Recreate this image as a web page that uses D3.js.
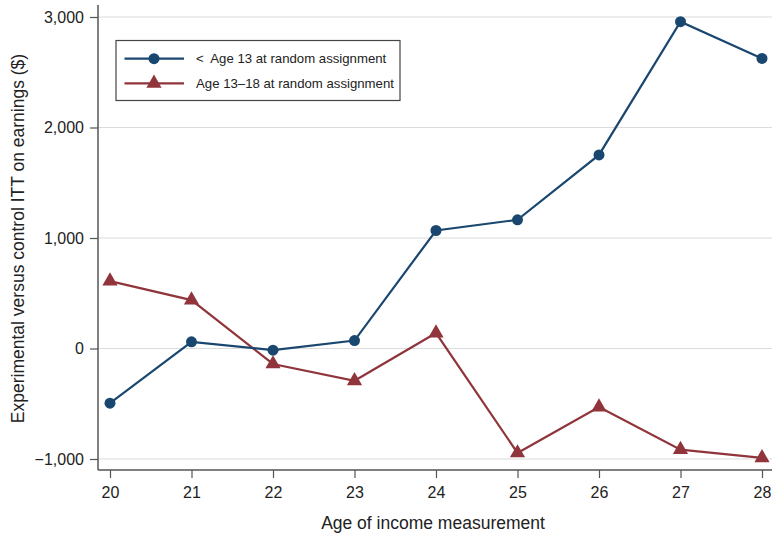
<!DOCTYPE html>
<html>
<head>
<meta charset="utf-8">
<script src="https://cdn.jsdelivr.net/npm/d3@7"></script>
<style>
  html, body { margin: 0; padding: 0; background: #fff; }
  svg { display: block; }
  text { font-family: "Liberation Sans", Arial, Helvetica, sans-serif; fill: #222; }
</style>
</head>
<body>
<svg id="chart" width="772" height="535"></svg>
<script>
// Age at which earnings were measured
const ages = [20, 21, 22, 23, 24, 25, 26, 27, 28];
// ITT effect on earnings ($), children younger than 13 at random assignment
const youngITT = [-495, 60, -15, 72, 1068, 1165, 1752, 2958, 2625];
// ITT effect on earnings ($), children aged 13-18 at random assignment
const olderITT = [610, 438, -140, -292, 140, -945, -530, -915, -990];
const yTicks = [-1000, 0, 1000, 2000, 3000];
const seriesNames = ["<  Age 13 at random assignment", "Age 13\u201318 at random assignment"];
const seriesColors = ["#1a476f", "#90353b"];

const svg = d3.select("#chart");
const plotLeft = 98, plotRight = 772, plotTop = 5, plotBottom = 470;

const x = d3.scaleLinear().domain([20, 28]).range([110, 762]);
const y = d3.scaleLinear().domain([-1000, 3000]).range([459, 17]);

// gridlines
svg.append("g").selectAll("line").data(yTicks).join("line")
  .attr("x1", plotLeft).attr("x2", plotRight)
  .attr("y1", d => y(d)).attr("y2", d => y(d))
  .attr("stroke", "#dcdcdc").attr("stroke-width", 1.2);

// y axis
const yAxis = svg.append("g").attr("transform", `translate(${plotLeft},0)`)
  .call(d3.axisLeft(y).tickValues(yTicks).tickSize(8).tickPadding(6)
    .tickFormat(d => d < 0 ? "\u2212" + d3.format(",")(-d) : d3.format(",")(d)));
yAxis.select(".domain").attr("d", `M0,${plotTop}V${plotBottom}`).attr("stroke", "#555").attr("stroke-width", 1.5);
yAxis.selectAll(".tick line").attr("stroke", "#555").attr("stroke-width", 1.2);
yAxis.selectAll(".tick text").attr("font-size", 16).attr("fill", "#222")
  .style("font-family", '"Liberation Sans", Arial, sans-serif');

// x axis
const xAxis = svg.append("g").attr("transform", `translate(0,${plotBottom})`)
  .call(d3.axisBottom(x).tickValues(ages).tickSize(8).tickPadding(9).tickFormat(d3.format("d")));
xAxis.select(".domain").attr("d", `M${plotLeft},0H${plotRight}`).attr("stroke", "#555").attr("stroke-width", 1.5);
xAxis.selectAll(".tick line").attr("stroke", "#555").attr("stroke-width", 1.2);
xAxis.selectAll(".tick text").attr("font-size", 16).attr("fill", "#222")
  .style("font-family", '"Liberation Sans", Arial, sans-serif');

// axis titles
svg.append("text")
  .attr("x", (plotLeft + plotRight) / 2 - 2).attr("y", 529)
  .attr("text-anchor", "middle").attr("font-size", 17.5)
  .text("Age of income measurement");
svg.append("text")
  .attr("transform", `translate(24,${(plotTop + plotBottom) / 2 + 1}) rotate(-90)`)
  .attr("text-anchor", "middle").attr("font-size", 17.5)
  .text("Experimental versus control ITT on earnings ($)");

const line = d3.line().x(d => x(d[0])).y(d => y(d[1]));
const triangle = d3.symbol().type(d3.symbolTriangle).size(100);

function drawSeries(values, color, kind) {
  const pts = ages.map((a, i) => [a, values[i]]);
  svg.append("path").datum(pts)
    .attr("d", line).attr("fill", "none")
    .attr("stroke", color).attr("stroke-width", 2.2);
  if (kind === "circle") {
    svg.append("g").selectAll("circle").data(pts).join("circle")
      .attr("cx", d => x(d[0])).attr("cy", d => y(d[1])).attr("r", 5.5)
      .attr("fill", color);
  } else {
    svg.append("g").selectAll("path").data(pts).join("path")
      .attr("d", triangle)
      .attr("transform", d => `translate(${x(d[0])},${y(d[1])})`)
      .attr("fill", color);
  }
}
drawSeries(olderITT, seriesColors[1], "triangle");
drawSeries(youngITT, seriesColors[0], "circle");

// legend
const lg = svg.append("g");
lg.append("rect").attr("x", 116).attr("y", 40.5).attr("width", 284).attr("height", 60)
  .attr("fill", "#fff").attr("stroke", "#444").attr("stroke-width", 1.2);
const rows = [58.7, 83.3];
rows.forEach((ry, i) => {
  lg.append("line").attr("x1", 124.5).attr("x2", 184).attr("y1", ry).attr("y2", ry)
    .attr("stroke", seriesColors[i]).attr("stroke-width", 2.2);
  if (i === 0) {
    lg.append("circle").attr("cx", 154).attr("cy", ry).attr("r", 5.5).attr("fill", seriesColors[i]);
  } else {
    lg.append("path").attr("d", triangle).attr("transform", `translate(154,${ry})`).attr("fill", seriesColors[i]);
  }
  lg.append("text").attr("x", 196).attr("y", ry + 4.5).attr("font-size", 13.2)
    .style("white-space", "pre")
    .text(seriesNames[i]);
});
</script>
</body>
</html>
